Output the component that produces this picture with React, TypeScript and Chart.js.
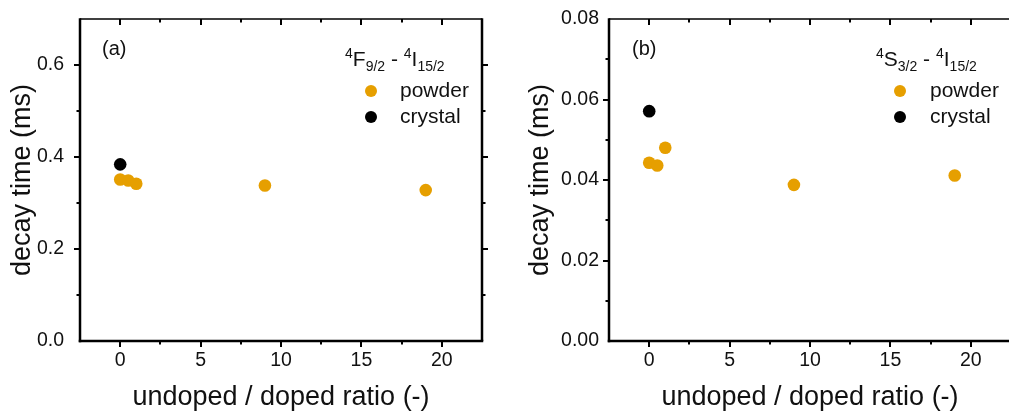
import React, { useEffect, useRef } from 'react';
import { Chart, registerables } from 'chart.js';

Chart.register(...registerables);

// ---- data ----
const ratioX = [0, 0.5, 1, 9, 19];
const crystalX = [0];
const powderA = [0.351, 0.349, 0.342, 0.338, 0.328];
const crystalA = [0.384];
const powderB = [0.0443, 0.0436, 0.048, 0.0388, 0.0411];
const crystalB = [0.0571];

const xTitle = 'undoped / doped ratio (-)';
const yTitle = 'decay time (ms)';

const ORANGE = '#E69F00';
const BLACK = '#000000';
const FONT = '"Liberation Sans", Arial, sans-serif';
const TEXT = '#111111';

const isMult = (v: number, m: number) => Math.abs(v / m - Math.round(v / m)) < 1e-6;

const framePlugin = (yMajor: number) => ({
  id: 'frame',
  afterDraw(chart: any) {
    const { ctx, chartArea: a, scales } = chart;
    const xs = scales.x;
    const ys = scales.y;
    const line = (x1: number, y1: number, x2: number, y2: number) => {
      ctx.beginPath();
      ctx.moveTo(x1, y1);
      ctx.lineTo(x2, y2);
      ctx.stroke();
    };
    ctx.save();
    ctx.strokeStyle = '#000';
    ctx.lineCap = 'butt';
    ctx.lineWidth = 1.5;
    line(a.left, a.top, a.right, a.top);
    ctx.lineWidth = 2.5;
    line(a.right, a.top - 0.75, a.right, a.bottom);
    line(a.left, a.top - 0.75, a.left, a.bottom + 1.25);
    line(a.left - 1.25, a.bottom, a.right + 1.25, a.bottom);
    ctx.lineWidth = 2;
    xs.ticks.forEach((t: any) => {
      if (t.value <= xs.min + 1e-9 || t.value >= xs.max - 1e-9) return;
      const px = Math.round(xs.getPixelForValue(t.value));
      const len = isMult(t.value, 5) ? 6 : 3.5;
      line(px, a.bottom, px, a.bottom + len);
      line(px, a.top, px, a.top + len);
    });
    ys.ticks.forEach((t: any) => {
      if (t.value <= ys.min + 1e-12 || t.value >= ys.max - 1e-12) return;
      const py = Math.round(ys.getPixelForValue(t.value));
      const len = isMult(t.value, yMajor) ? 6 : 3.5;
      line(a.left - len, py, a.left, py);
      line(a.right, py, a.right + len, py);
    });
    ctx.restore();
  },
});

type PanelProps = {
  left: number;
  width: number;
  yAxisWidth: number;
  padRight: number;
  yMax: number;
  yStep: number;
  yMajor: number;
  decimals: number;
  yTickPad: number;
  yTitlePad: number;
  powder: number[];
  crystal: number[];
};

function Panel(p: PanelProps) {
  const ref = useRef<HTMLCanvasElement | null>(null);
  useEffect(() => {
    if (!ref.current) return;
    const chart = new Chart(ref.current, {
      type: 'scatter',
      data: {
        datasets: [
          {
            label: 'crystal',
            data: crystalX.map((x, i) => ({ x, y: p.crystal[i] })),
            backgroundColor: BLACK,
            borderColor: BLACK,
            borderWidth: 0,
            pointRadius: 6.3,
          },
          {
            label: 'powder',
            data: ratioX.map((x, i) => ({ x, y: p.powder[i] })),
            backgroundColor: ORANGE,
            borderColor: ORANGE,
            borderWidth: 0,
            pointRadius: 6.3,
          },
        ],
      },
      options: {
        animation: false,
        responsive: false,
        layout: { padding: { top: 19, right: p.padRight, left: 0, bottom: 0 } },
        plugins: { legend: { display: false }, tooltip: { enabled: false } },
        scales: {
          x: {
            type: 'linear',
            min: -2.5,
            max: 22.5,
            grid: { display: false, drawTicks: false },
            border: { display: false },
            ticks: {
              stepSize: 2.5,
              autoSkip: false,
              maxRotation: 0,
              padding: 8,
              color: TEXT,
              font: { family: FONT, size: 19.5 },
              callback: (v: any) => (isMult(Number(v), 5) ? String(Math.round(Number(v))) : ''),
            },
            title: {
              display: true,
              text: xTitle,
              color: TEXT,
              font: { family: FONT, size: 27 },
              padding: { top: 0, bottom: 2 },
            },
            afterFit: (s: any) => {
              s.height = 75;
              s.paddingLeft = 0;
              s.paddingRight = 0;
            },
          },
          y: {
            type: 'linear',
            min: 0,
            max: p.yMax,
            grid: { display: false, drawTicks: false },
            border: { display: false },
            ticks: {
              stepSize: p.yStep,
              autoSkip: false,
              padding: p.yTickPad,
              color: TEXT,
              font: { family: FONT, size: 19.5 },
              callback: (v: any) => (isMult(Number(v), p.yMajor) ? Number(v).toFixed(p.decimals) : ''),
            },
            title: {
              display: true,
              text: yTitle,
              color: TEXT,
              font: { family: FONT, size: 27 },
              padding: { top: p.yTitlePad, bottom: 0 },
            },
            afterFit: (s: any) => {
              s.width = p.yAxisWidth;
              s.paddingTop = 0;
              s.paddingBottom = 0;
            },
          },
        },
      },
      plugins: [framePlugin(p.yMajor)],
    } as any);
    return () => chart.destroy();
  }, []);
  return (
    <canvas
      ref={ref}
      width={p.width}
      height={416}
      style={{ position: 'absolute', left: p.left, top: 0, width: p.width, height: 416 }}
    />
  );
}

const supStyle: React.CSSProperties = { fontSize: 14, position: 'relative', top: -8 };
const subStyle: React.CSSProperties = { fontSize: 14, position: 'relative', top: 5 };

function Header({ left, level }: { left: number; level: [string, string] }) {
  return (
    <div
      style={{
        position: 'absolute',
        left,
        top: 47,
        fontSize: 21,
        lineHeight: '24px',
        whiteSpace: 'nowrap',
        color: TEXT,
      }}
    >
      <span style={supStyle}>4</span>
      {level[0]}
      <span style={subStyle}>{level[1]}</span>
      {' - '}
      <span style={supStyle}>4</span>I<span style={subStyle}>15/2</span>
    </div>
  );
}

function LegendRows({ markerX, textX }: { markerX: number; textX: number }) {
  const rows = [
    { label: 'powder', color: ORANGE, cy: 91, top: 78 },
    { label: 'crystal', color: BLACK, cy: 117, top: 104 },
  ];
  return (
    <>
      {rows.map((r) => (
        <React.Fragment key={r.label}>
          <div
            style={{
              position: 'absolute',
              left: markerX - 6,
              top: r.cy - 6,
              width: 12,
              height: 12,
              borderRadius: '50%',
              background: r.color,
            }}
          />
          <div
            style={{
              position: 'absolute',
              left: textX,
              top: r.top,
              fontSize: 21,
              lineHeight: '24px',
              color: TEXT,
              whiteSpace: 'nowrap',
            }}
          >
            {r.label}
          </div>
        </React.Fragment>
      ))}
    </>
  );
}

function PanelLabel({ left, text }: { left: number; text: string }) {
  return (
    <div
      style={{
        position: 'absolute',
        left,
        top: 36,
        fontSize: 20,
        lineHeight: '24px',
        color: TEXT,
      }}
    >
      {text}
    </div>
  );
}

export default function App() {
  return (
    <div
      style={{
        position: 'fixed',
        left: 0,
        top: 0,
        width: 1009,
        height: 416,
        overflow: 'hidden',
        background: '#fff',
        fontFamily: FONT,
      }}
    >
      <Panel
        left={0}
        width={500}
        yAxisWidth={80}
        padRight={18}
        yMax={0.7}
        yStep={0.1}
        yMajor={0.2}
        decimals={1}
        yTickPad={16}
        yTitlePad={6}
        powder={powderA}
        crystal={crystalA}
      />
      <Panel
        left={500}
        width={530}
        yAxisWidth={109}
        padRight={19}
        yMax={0.08}
        yStep={0.01}
        yMajor={0.02}
        decimals={2}
        yTickPad={10}
        yTitlePad={24}
        powder={powderB}
        crystal={crystalB}
      />
      <PanelLabel left={102} text="(a)" />
      <PanelLabel left={632} text="(b)" />
      <Header left={345} level={['F', '9/2']} />
      <Header left={876} level={['S', '3/2']} />
      <LegendRows markerX={371} textX={400} />
      <LegendRows markerX={900} textX={930} />
    </div>
  );
}
